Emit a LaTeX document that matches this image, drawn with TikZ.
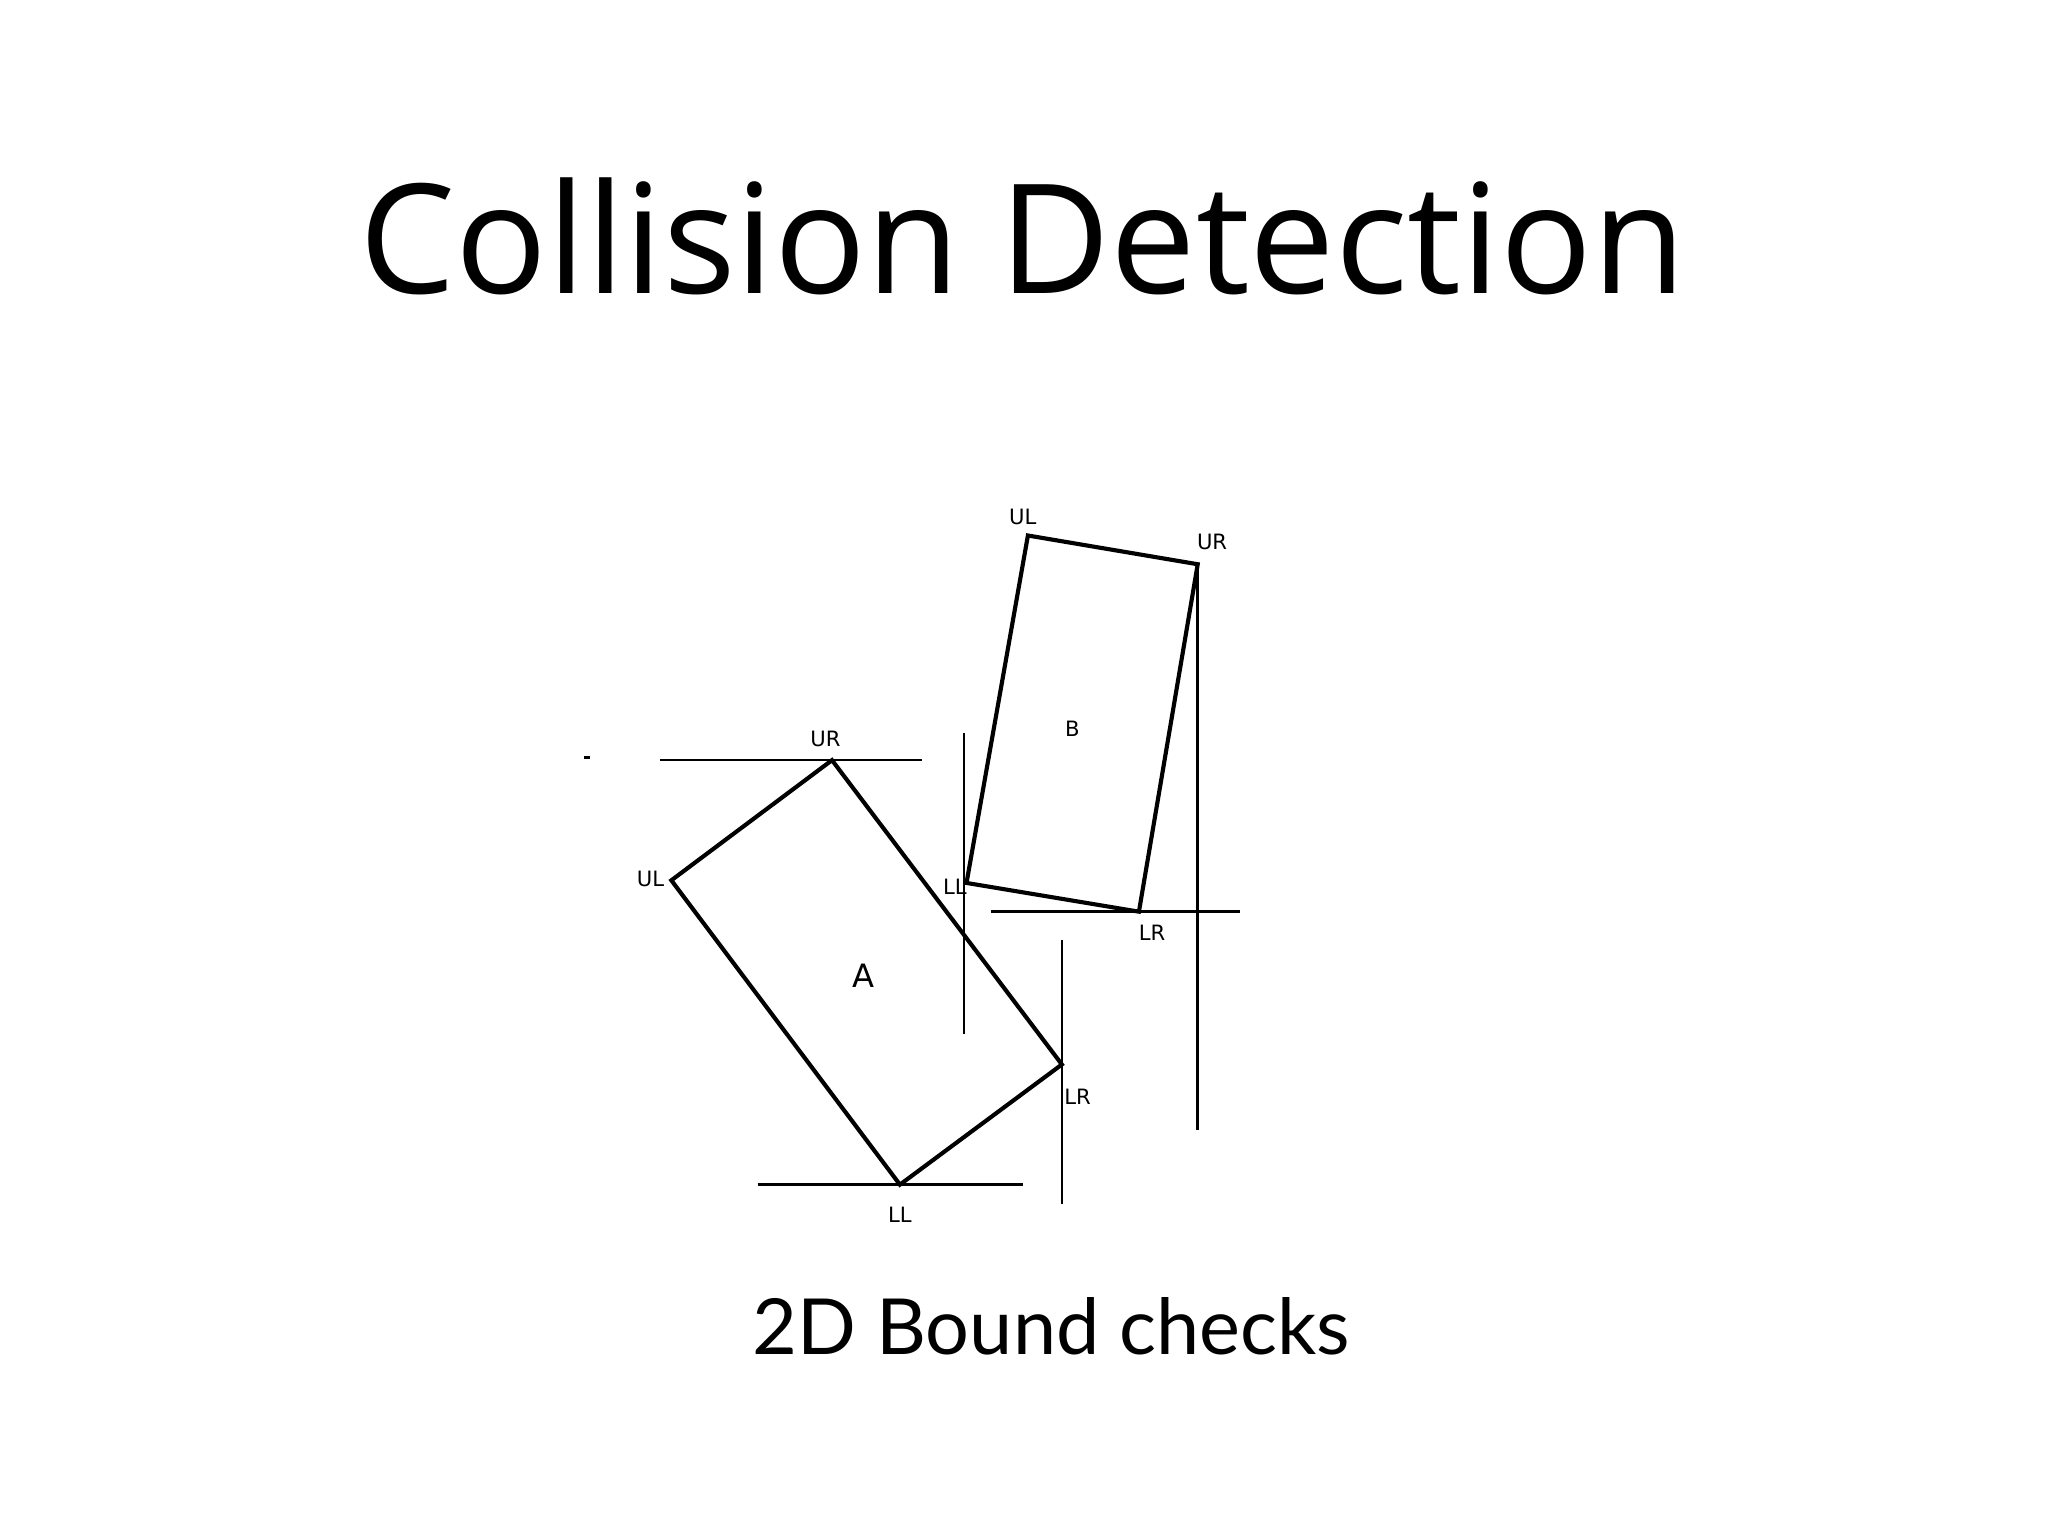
\documentclass[tikz,border=0pt]{standalone}
\usepackage{fontspec}
\setmainfont{Lato}
\newfontfamily\titlefont{Open Sans}
\newfontfamily\labelfont{DejaVu Sans}
\begin{document}
\begin{tikzpicture}[x=0.01cm,y=-0.01cm,
  edge/.style={line width=0.9pt,line join=miter},
  bound/.style={line width=0.55pt},
  lbl/.style={inner sep=0pt,font=\labelfont\fontsize{4.6}{5}\selectfont},
  big/.style={inner sep=0pt,font=\labelfont\fontsize{7}{8}\selectfont}]
\useasboundingbox[fill=white] (0,0) rectangle (1568,1176);
% title
\node[inner sep=0pt,anchor=base,font=\titlefont\fontsize{36}{40}\selectfont] (title) at (783,225) {\resizebox{10.15cm}{!}{Collision Detection}};
\node[inner sep=0pt,anchor=base,font=\fontsize{16.85}{20}\selectfont] (sub) at (805,1037) {2D Bound checks};
% rectangle A
\coordinate (aUR) at (637,582);
\coordinate (aUL) at (514,674);
\coordinate (aLL) at (689,907);
\coordinate (aLR) at (813,815);
\draw[edge] (aUR) -- (aUL) -- (aLL) -- (aLR) -- cycle;
% rectangle B
\coordinate (bUL) at (787,410);
\coordinate (bUR) at (917,432);
\coordinate (bLR) at (872,698);
\coordinate (bLL) at (740,676);
\draw[edge] (bUL) -- (bUR) -- (bLR) -- (bLL) -- cycle;
% bound lines
\coordinate (h1a) at (505,582); \coordinate (h1b) at (706,582);
\coordinate (h2a) at (580,907); \coordinate (h2b) at (783,907);
\coordinate (v1a) at (813,720); \coordinate (v1b) at (813,922);
\coordinate (v2a) at (738,561); \coordinate (v2b) at (738,792);
\coordinate (v3a) at (917,432); \coordinate (v3b) at (917,865);
\coordinate (h3a) at (759,698); \coordinate (h3b) at (949,698);
\draw[bound] (h1a) -- (h1b);
\draw[bound] (h2a) -- (h2b);
\draw[bound] (v1a) -- (v1b);
\draw[bound] (v2a) -- (v2b);
\draw[bound] (v3a) -- (v3b);
\draw[bound] (h3a) -- (h3b);
\coordinate (d1) at (447,580); \coordinate (d2) at (452,580);
\draw[line width=0.5pt] (d1) -- (d2);
% labels A
\node[lbl] (laUR) at (632,566) {UR};
\node[lbl] (laUL) at (498,673) {UL};
\node[lbl] (laLL) at (689,930) {LL};
\node[lbl] (laLR) at (825,840) {LR};
\node[big] (la) at (661,747) {A};
% labels B
\node[lbl] (lbUL) at (783,396) {UL};
\node[lbl] (lbUR) at (928,415) {UR};
\node[lbl] (lbLL) at (731,679) {LL};
\node[lbl] (lbLR) at (882,714) {LR};
\node[lbl] (lb) at (821,558) {B};
\end{tikzpicture}
\end{document}
